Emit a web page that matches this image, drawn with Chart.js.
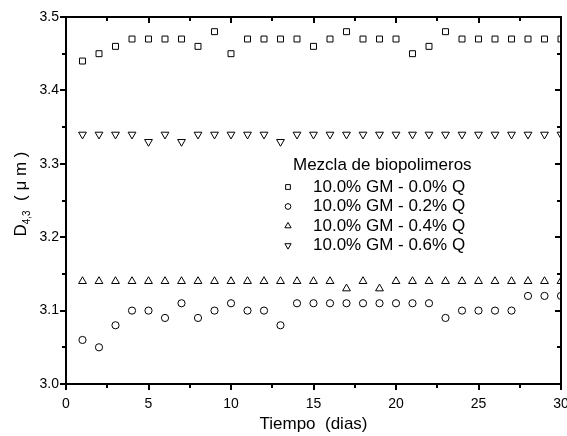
<!DOCTYPE html>
<html>
<head>
<meta charset="utf-8">
<script src="https://cdn.jsdelivr.net/npm/chart.js@4"></script>
<style>
  html, body { margin: 0; padding: 0; background: #fff; }
  #wrap { width: 567px; height: 436px; position: relative; }
</style>
</head>
<body>
<div id="wrap"><canvas id="grafico"></canvas></div>
<script>
// Datos (D43 en micrometros vs. tiempo en dias)
const dias = [1, 2, 3, 4, 5, 6, 7, 8, 9, 10, 11, 12, 13, 14, 15,
              16, 17, 18, 19, 20, 21, 22, 23, 24, 25, 26, 27, 28, 29, 30];

const q00 = [3.44, 3.45, 3.46, 3.47, 3.47, 3.47, 3.47, 3.46, 3.48, 3.45,
             3.47, 3.47, 3.47, 3.47, 3.46, 3.47, 3.48, 3.47, 3.47, 3.47,
             3.45, 3.46, 3.48, 3.47, 3.47, 3.47, 3.47, 3.47, 3.47, 3.47];
const q02 = [3.06, 3.05, 3.08, 3.10, 3.10, 3.09, 3.11, 3.09, 3.10, 3.11,
             3.10, 3.10, 3.08, 3.11, 3.11, 3.11, 3.11, 3.11, 3.11, 3.11,
             3.11, 3.11, 3.09, 3.10, 3.10, 3.10, 3.10, 3.12, 3.12, 3.12];
const q04 = [3.14, 3.14, 3.14, 3.14, 3.14, 3.14, 3.14, 3.14, 3.14, 3.14,
             3.14, 3.14, 3.14, 3.14, 3.14, 3.14, 3.13, 3.14, 3.13, 3.14,
             3.14, 3.14, 3.14, 3.14, 3.14, 3.14, 3.14, 3.14, 3.14, 3.14];
const q06 = [3.34, 3.34, 3.34, 3.34, 3.33, 3.34, 3.33, 3.34, 3.34, 3.34,
             3.34, 3.34, 3.33, 3.34, 3.34, 3.34, 3.34, 3.34, 3.34, 3.34,
             3.34, 3.34, 3.34, 3.34, 3.34, 3.34, 3.34, 3.34, 3.34, 3.34];

const etiquetas = ["10.0% GM - 0.0% Q", "10.0% GM - 0.2% Q", "10.0% GM - 0.4% Q", "10.0% GM - 0.6% Q"];
const tituloLeyenda = "Mezcla de biopolimeros";
const xTicks = [0, 5, 10, 15, 20, 25, 30];
const yTicks = [3.0, 3.1, 3.2, 3.3, 3.4, 3.5];

const FUENTE = "'Liberation Sans', Arial, sans-serif";

function serie(label, valores, estilo, radio, rot) {
  return {
    label: label,
    data: dias.map((d, i) => ({ x: d, y: valores[i] })),
    pointStyle: estilo,
    pointRadius: radio,
    pointHoverRadius: radio,
    pointRotation: rot || 0,
    pointBorderColor: "#000",
    pointBackgroundColor: "rgba(0,0,0,0)",
    pointBorderWidth: 1,
    showLine: false,
    clip: 0
  };
}

// Marco, marcas de los ejes, titulos y leyenda
const decoracion = {
  id: "decoracion",
  afterDraw(chart) {
    const ctx = chart.ctx;
    const a = chart.chartArea;
    const sx = chart.scales.x, sy = chart.scales.y;
    ctx.save();
    ctx.strokeStyle = "#000";
    ctx.lineWidth = 2;
    ctx.strokeRect(a.left, a.top, a.right - a.left, a.bottom - a.top);

    ctx.beginPath();
    for (let i = 0; i <= 12; i++) {
      const v = i * 2.5;
      const px = Math.round(sx.getPixelForValue(v));
      const len = i % 2 === 0 ? 6 : 4;
      ctx.moveTo(px, a.bottom); ctx.lineTo(px, a.bottom + len);
      ctx.moveTo(px, a.top); ctx.lineTo(px, a.top + len);
    }
    for (let i = 0; i <= 10; i++) {
      const v = 3.0 + i * 0.05;
      const py = Math.round(sy.getPixelForValue(v));
      const len = i % 2 === 0 ? 6 : 4;
      ctx.moveTo(a.left, py); ctx.lineTo(a.left - len, py);
      ctx.moveTo(a.right, py); ctx.lineTo(a.right - len, py);
    }
    ctx.stroke();

    // Titulo eje X
    ctx.fillStyle = "#000";
    ctx.font = "17px " + FUENTE;
    ctx.textAlign = "center";
    ctx.textBaseline = "middle";
    ctx.fillText("Tiempo  (dias)", (a.left + a.right) / 2, 424);

    // Titulo eje Y con subindice
    ctx.save();
    ctx.translate(20, 194);
    ctx.rotate(-Math.PI / 2);
    ctx.textBaseline = "alphabetic";
    ctx.textAlign = "left";
    const partes = [
      { t: "D", f: "17px", dy: 0 },
      { t: "4,3", f: "10px", dy: 4 },
      { t: "  ( \u03bc m )", f: "17px", dy: 0 }
    ];
    let ancho = 0;
    partes.forEach(p => { ctx.font = p.f + " " + FUENTE; p.w = ctx.measureText(p.t).width; ancho += p.w; });
    let x0 = -ancho / 2;
    partes.forEach(p => {
      ctx.font = p.f + " " + FUENTE;
      ctx.fillText(p.t, x0, 6 + p.dy);
      x0 += p.w;
    });
    ctx.restore();

    // Leyenda
    ctx.font = "17px " + FUENTE;
    ctx.textAlign = "left";
    ctx.textBaseline = "middle";
    ctx.fillText(tituloLeyenda, 293, 165);
    const filas = [187, 206.5, 226, 245.5];
    chart.data.datasets.forEach((ds, i) => {
      ctx.lineWidth = 1;
      ctx.strokeStyle = "#000";
      ctx.fillStyle = "rgba(0,0,0,0)";
      Chart.helpers.drawPoint(ctx, {
        pointStyle: ds.pointStyle,
        rotation: ds.pointRotation,
        radius: ds.pointRadius * 0.8,
        borderWidth: 1
      }, 288, filas[i]);
      ctx.fillStyle = "#000";
      ctx.fillText(etiquetas[i], 313, filas[i]);
    });
    ctx.restore();
  }
};

new Chart(document.getElementById("grafico").getContext("2d"), {
  type: "scatter",
  data: {
    datasets: [
      serie(etiquetas[0], q00, "rect", 4.2),
      serie(etiquetas[1], q02, "circle", 3.6),
      serie(etiquetas[2], q04, "triangle", 4.5),
      serie(etiquetas[3], q06, "triangle", 4.5, 180)
    ]
  },
  options: {
    responsive: true,
    maintainAspectRatio: false,
    animation: false,
    devicePixelRatio: 1,
    layout: { padding: { top: 17, right: 6, left: 0, bottom: 0 } },
    plugins: {
      legend: { display: false },
      tooltip: { enabled: false }
    },
    scales: {
      x: {
        type: "linear",
        min: 0,
        max: 30,
        afterFit(s) { s.height = 52; s.paddingLeft = 0; s.paddingRight = 0; },
        afterBuildTicks(s) { s.ticks = xTicks.map(v => ({ value: v })); },
        grid: { display: false, drawTicks: false },
        border: { display: false },
        ticks: {
          color: "#000",
          padding: 12,
          maxRotation: 0,
          font: { family: FUENTE, size: 14 },
          callback: v => String(v)
        }
      },
      y: {
        type: "linear",
        min: 3.0,
        max: 3.5,
        afterFit(s) { s.width = 66; s.paddingTop = 0; s.paddingBottom = 0; },
        afterBuildTicks(s) { s.ticks = yTicks.map(v => ({ value: v })); },
        grid: { display: false, drawTicks: false },
        border: { display: false },
        ticks: {
          color: "#000",
          padding: 7,
          font: { family: FUENTE, size: 14 },
          callback: v => Number(v).toFixed(1)
        }
      }
    }
  },
  plugins: [decoracion]
});
</script>
</body>
</html>
